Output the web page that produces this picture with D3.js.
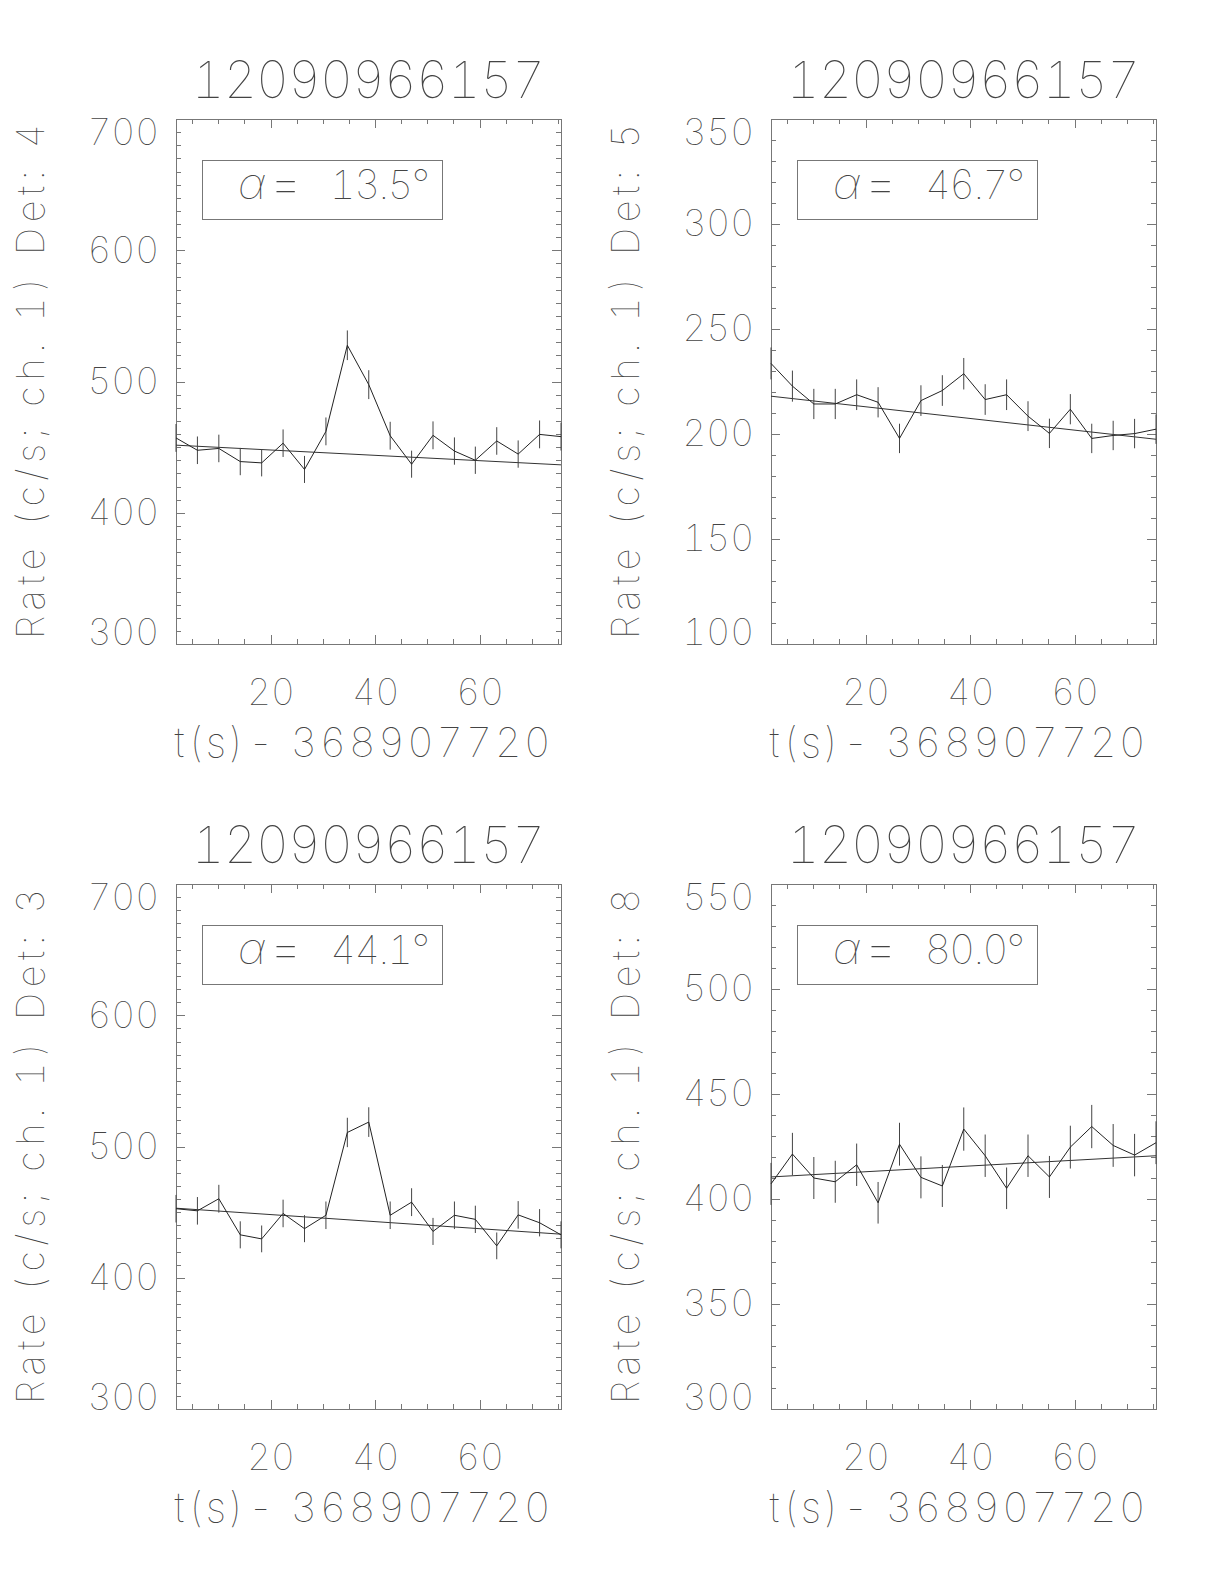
<!DOCTYPE html>
<html>
<head>
<meta charset="utf-8">
<script src="https://cdn.jsdelivr.net/npm/d3@7"></script>
<style>
  body { margin: 0; background: #fff; }
  svg text {
    font-family: "Inter", "DejaVu Sans", sans-serif;
    font-weight: 100;
    font-feature-settings: "tnum";
    fill: #444;
  }
</style>
</head>
<body>
<script>
// time of each bin (s) relative to the offset below
const times = [1.9, 6.0, 10.1, 14.2, 18.3, 22.4, 26.5, 30.6, 34.7, 38.8,
  42.9, 47.0, 51.1, 55.2, 59.2, 63.3, 67.4, 71.5, 75.6];
const timeOffset = 368907720;
const burstId = "12090966157";

const detectors = [4, 5, 3, 8];
const alphas = ["13.5", "46.7", "44.1", "80.0"];
const yDomains = [[300, 700], [100, 350], [300, 700], [300, 550]];
const yTickLabels = [
  [300, 400, 500, 600, 700],
  [100, 150, 200, 250, 300, 350],
  [300, 400, 500, 600, 700],
  [300, 350, 400, 450, 500, 550],
];
const xTickLabels = [20, 40, 60];

// rates (c/s) per detector
const rateDet4 = [457.0, 447.6, 449.0, 439.0, 438.0, 453.0, 433.0, 462.0, 527.6, 497.6,
  458.7, 437.0, 459.0, 447.0, 440.0, 454.7, 444.7, 459.7, 458.0];
const rateDet5 = [233.6, 222.8, 214.3, 214.3, 218.7, 215.1, 197.9, 215.9, 220.7, 228.7,
  216.4, 218.7, 208.5, 200.3, 211.8, 197.9, 199.3, 200.2, 202.3];
const rateDet3 = [452.6, 451.0, 460.2, 432.7, 429.6, 449.0, 437.4, 447.6, 510.7, 518.6,
  447.6, 457.6, 435.3, 447.6, 444.5, 424.3, 447.9, 441.9, 432.7];
const rateDet8 = [407.2, 421.4, 410.0, 408.2, 416.3, 398.2, 426.1, 410.3, 406.2, 433.3,
  420.6, 405.1, 420.6, 410.5, 424.7, 434.5, 425.5, 420.9, 426.8];

// 1-sigma errors
const errDet4 = [10.6, 10.5, 10.5, 10.4, 10.3, 10.5, 10.3, 10.6, 11.3, 11.0,
  10.6, 10.3, 10.6, 10.4, 10.4, 10.5, 10.4, 10.6, 10.6];
const errDet5 = [7.6, 7.4, 7.2, 7.2, 7.3, 7.2, 7.0, 7.3, 7.3, 7.5,
  7.3, 7.3, 7.1, 7.0, 7.2, 7.0, 7.0, 7.0, 7.0];
const errDet3 = [10.5, 10.5, 10.6, 10.3, 10.2, 10.5, 10.3, 10.5, 11.2, 11.3,
  10.5, 10.6, 10.3, 10.5, 10.4, 10.2, 10.5, 10.4, 10.3];
const errDet8 = [10.0, 10.1, 10.0, 10.0, 10.1, 9.9, 10.2, 10.0, 10.0, 10.3,
  10.1, 9.9, 10.1, 10.0, 10.2, 10.3, 10.2, 10.1, 10.2];

// background fit: value at first and last bin
const fitStart = [451.5, 218.0, 453.0, 410.5];
const fitEnd = [436.5, 197.5, 433.2, 420.6];

const rates = [rateDet4, rateDet5, rateDet3, rateDet8];
const errs = [errDet4, errDet5, errDet3, errDet8];

// layout
const W = 385, H = 525;
const lefts = [176, 771, 176, 771];
const tops = [119, 119, 884, 884];

const svg = d3.select("body").append("svg")
  .attr("width", 1224)
  .attr("height", 1584);

detectors.forEach((det, i) => {
  const g = svg.append("g").attr("transform", `translate(${lefts[i]},${tops[i]})`);

  const x = d3.scaleLinear().domain(d3.extent(times)).range([0, W]);
  const y = d3.scaleLinear().domain(yDomains[i]).range([H, 0]);

  const xMinor = d3.range(5, d3.max(times), 5);
  const yMinor = d3.range(yDomains[i][0], yDomains[i][1] + 1, 10);

  // ticks pointing inward on all four sides
  function addAxis(axis, transform, labelled) {
    const ag = g.append("g").attr("transform", transform).call(axis);
    ag.attr("font-family", null).attr("font-size", null);
    ag.select(".domain").remove();
    ag.selectAll("line").attr("stroke", "#777").attr("shape-rendering", "crispEdges");
    if (!labelled) ag.selectAll("text").remove();
    return ag;
  }

  // minor ticks
  addAxis(d3.axisBottom(x).tickValues(xMinor).tickSize(-5), `translate(0,${H})`, false);
  addAxis(d3.axisTop(x).tickValues(xMinor).tickSize(-5), "translate(0,0)", false);
  addAxis(d3.axisLeft(y).tickValues(yMinor).tickSize(-5), "translate(0,0)", false);
  addAxis(d3.axisRight(y).tickValues(yMinor).tickSize(-5), `translate(${W},0)`, false);

  // major ticks with labels
  const xb = addAxis(d3.axisBottom(x).tickValues(xTickLabels).tickSize(-9).tickPadding(35)
    .tickFormat(d3.format("d")), `translate(0,${H})`, true);
  xb.selectAll("text").attr("font-size", 37).attr("fill", "#444");
  addAxis(d3.axisTop(x).tickValues(xTickLabels).tickSize(-9), "translate(0,0)", false);

  const yl = addAxis(d3.axisLeft(y).tickValues(yTickLabels[i]).tickSize(-9).tickPadding(17)
    .tickFormat(d3.format("d")), "translate(0,0)", true);
  yl.selectAll("text")
    .attr("font-size", 37)
    .attr("fill", "#444")
    .attr("y", d => Math.max(14, Math.min(H - 11, y(d))) - y(d));
  addAxis(d3.axisRight(y).tickValues(yTickLabels[i]).tickSize(-9), `translate(${W},0)`, false);

  // frame
  g.append("rect")
    .attr("x", 0.5).attr("y", 0.5)
    .attr("width", W).attr("height", H)
    .attr("fill", "none")
    .attr("stroke", "#777")
    .attr("shape-rendering", "crispEdges");

  // background fit line
  g.append("line")
    .attr("x1", x(times[0])).attr("y1", y(fitStart[i]))
    .attr("x2", x(times[times.length - 1])).attr("y2", y(fitEnd[i]))
    .attr("stroke", "#333")
    .attr("stroke-width", 1);

  // error bars
  g.selectAll(".err")
    .data(times)
    .enter()
    .append("line")
    .attr("class", "err")
    .attr("x1", d => x(d)).attr("x2", d => x(d))
    .attr("y1", (d, k) => y(rates[i][k] - errs[i][k]))
    .attr("y2", (d, k) => y(rates[i][k] + errs[i][k]))
    .attr("stroke", "#444")
    .attr("stroke-width", 1);

  // light curve
  g.append("path")
    .datum(times.map((t, k) => [t, rates[i][k]]))
    .attr("d", d3.line().x(d => x(d[0])).y(d => y(d[1])))
    .attr("fill", "none")
    .attr("stroke", "#222")
    .attr("stroke-width", 1);

  // angle box
  g.append("rect")
    .attr("x", 26.5).attr("y", 41.5)
    .attr("width", 240).attr("height", 59)
    .attr("fill", "none")
    .attr("stroke", "#777")
    .attr("shape-rendering", "crispEdges");
  const at = g.append("text")
    .attr("x", 62).attr("y", 80)
    .attr("font-size", 40);
  at.append("tspan").attr("font-style", "italic").attr("font-size", 44).text("α");
  at.append("tspan").attr("dx", 3).attr("font-size", 54).attr("dy", 3).text("=");
  at.append("tspan").attr("x", 154).attr("dy", -3).attr("textLength", 100).text(alphas[i] + "°");

  // title
  g.append("text")
    .attr("x", W / 2).attr("y", -21)
    .attr("text-anchor", "middle")
    .attr("font-size", 51)
    .attr("textLength", 353)
    .text(burstId);

  // x title
  g.append("text")
    .attr("x", W / 2 - 6).attr("y", H + 113)
    .attr("text-anchor", "middle")
    .attr("font-size", 41)
    .attr("textLength", 376)
    .text("t(s)- " + timeOffset);

  // y title
  g.append("text")
    .attr("transform", `translate(-132,${H / 2}) rotate(-90)`)
    .attr("text-anchor", "middle")
    .attr("font-size", 38)
    .attr("textLength", 515)
    .text(`Rate (c/s; ch. 1) Det: ${det}`);
});
</script>
</body>
</html>
